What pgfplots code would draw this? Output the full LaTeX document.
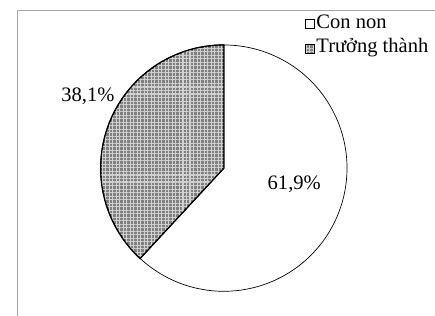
\documentclass[border=0pt]{standalone}
\usepackage{fontspec}
\setmainfont{Liberation Serif}
\usepackage{pgfplots}
\pgfplotsset{compat=1.18}
\usepackage{pgfplotstable}
\usetikzlibrary{patterns.meta}

% Shares of the two age groups (percent)
\pgfplotstableread[col sep=comma]{
label,value
Con non,61.9
Trưởng thành,38.1
}\piedata

\newcommand\bigfont{\fontsize{21}{23}\selectfont}

\begin{document}
\pgfplotstablegetelem{0}{value}\of\piedata \let\vA\pgfplotsretval
\pgfplotstablegetelem{1}{value}\of\piedata \let\vB\pgfplotsretval
% slices run clockwise from 12 o'clock
\pgfmathsetmacro\sA{90}
\pgfmathsetmacro\eA{90-3.6*\vA}
\pgfmathsetmacro\eB{\eA-3.6*\vB}
\def\cx{219}\def\cy{151}\def\R{126}
\begin{tikzpicture}
\begin{axis}[
  width=435pt, height=323pt, scale only axis,
  xmin=0, xmax=435, ymin=0, ymax=323,
  hide axis, clip=false,
  legend style={at={(axis cs:302,309)}, anchor=north west,
    draw=none, fill=none, inner sep=0pt,
    cells={anchor=west}, row sep=4pt,
    nodes={inner xsep=1.5pt, inner ysep=0pt, text height=15pt, text depth=6pt, font=\bigfont}},
  legend image code/.code={\draw[#1, line width=0.5pt] (0pt,-4.5pt) rectangle (9.5pt,4.5pt);},
]
% outer frame of the chart area
\draw[gray!70, line width=0.8pt] (axis cs:7.3,0) -- (axis cs:7.3,312) -- (axis cs:435,312);

\addplot[draw=black, line width=0.7pt, fill=white, domain=\eA:\sA, samples=150]
  ({\cx+\R*cos(x)},{\cy+\R*sin(x)}) -- (axis cs:\cx,\cy) -- cycle;
\addlegendentry{\bigfont Con non}

\addplot[draw=black, line width=1.2pt, fill=black!50,
  postaction={pattern={Hatch[angle=0,distance=3.6pt,line width=1.1pt]}, pattern color=black!18},
  domain=\eB:\eA, samples=150]
  ({\cx+\R*cos(x)},{\cy+\R*sin(x)}) -- (axis cs:\cx,\cy) -- cycle;
\addlegendentry{\bigfont Trưởng thành}

\node[font=\bigfont] at (axis cs:291,135) {61,9\%};
\node[font=\bigfont] at (axis cs:80,225) {38,1\%};
\end{axis}
\pgfresetboundingbox
\path[use as bounding box] (0,0) rectangle (435pt,323pt);
\end{tikzpicture}
\end{document}
